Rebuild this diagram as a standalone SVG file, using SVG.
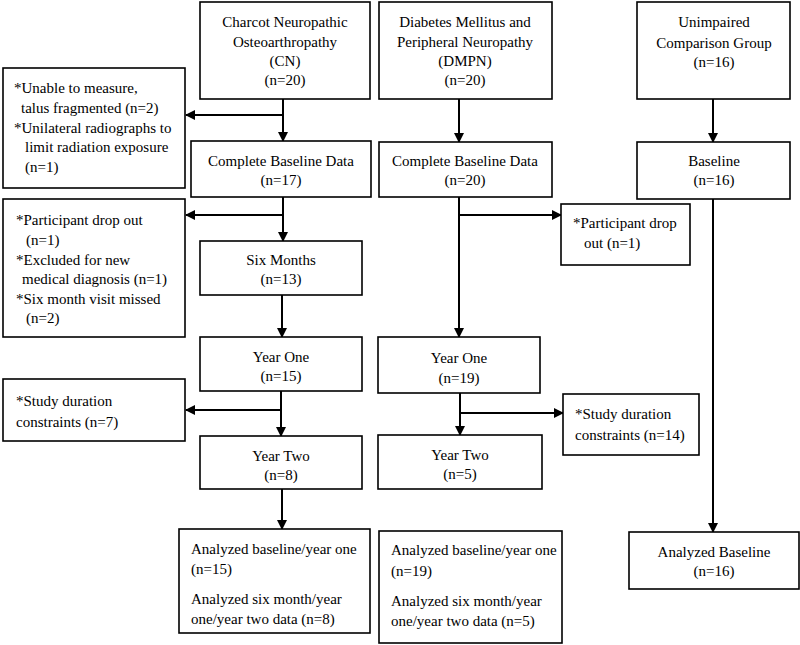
<svg xmlns="http://www.w3.org/2000/svg" width="800" height="645" viewBox="0 0 800 645">
<style>
.box{fill:#fff;stroke:#000;stroke-width:1.6}
text{font-family:"Liberation Serif","Times New Roman",serif;font-size:15px;fill:#000}
.c{text-anchor:middle}
.ln{stroke:#000;stroke-width:2;fill:none}
</style>
<defs>
<marker id="ah" markerWidth="10" markerHeight="10" refX="9" refY="5" orient="auto" markerUnits="userSpaceOnUse">
<path d="M0,0 L10,5 L0,10 Z" fill="#000"/>
</marker>
</defs>
<rect width="800" height="645" fill="#fff"/>
<g id="connectors">
<line class="ln" x1="283" y1="99" x2="283" y2="141" marker-end="url(#ah)"/>
<line class="ln" x1="283" y1="115" x2="186" y2="115" marker-end="url(#ah)"/>
<line class="ln" x1="283" y1="197" x2="283" y2="241" marker-end="url(#ah)"/>
<line class="ln" x1="283" y1="215" x2="186" y2="215" marker-end="url(#ah)"/>
<line class="ln" x1="282" y1="295" x2="282" y2="337" marker-end="url(#ah)"/>
<line class="ln" x1="281" y1="391" x2="281" y2="436" marker-end="url(#ah)"/>
<line class="ln" x1="281" y1="410" x2="186" y2="410" marker-end="url(#ah)"/>
<line class="ln" x1="282" y1="489" x2="282" y2="529" marker-end="url(#ah)"/>
<line class="ln" x1="459" y1="99" x2="459" y2="142" marker-end="url(#ah)"/>
<line class="ln" x1="459" y1="197" x2="459" y2="337" marker-end="url(#ah)"/>
<line class="ln" x1="459" y1="215" x2="561" y2="215" marker-end="url(#ah)"/>
<line class="ln" x1="460" y1="393" x2="460" y2="435" marker-end="url(#ah)"/>
<line class="ln" x1="460" y1="413" x2="563" y2="413" marker-end="url(#ah)"/>
<line class="ln" x1="713" y1="99" x2="713" y2="142" marker-end="url(#ah)"/>
<line class="ln" x1="713" y1="199" x2="713" y2="532" marker-end="url(#ah)"/>
</g>
<g id="cn">
<rect class="box" x="200" y="2" width="170" height="97"/>
<text class="c" x="285" y="27">Charcot Neuropathic</text>
<text class="c" x="285" y="47">Osteoarthropathy</text>
<text class="c" x="285" y="66">(CN)</text>
<text class="c" x="285" y="85">(n=20)</text>
</g>
<g id="dmpn">
<rect class="box" x="379" y="2" width="173" height="97"/>
<text class="c" x="465" y="27">Diabetes Mellitus and</text>
<text class="c" x="465" y="47">Peripheral Neuropathy</text>
<text class="c" x="465" y="66">(DMPN)</text>
<text class="c" x="465" y="85">(n=20)</text>
</g>
<g id="unimpaired">
<rect class="box" x="637" y="2" width="153" height="97"/>
<text class="c" x="714" y="27">Unimpaired</text>
<text class="c" x="714" y="48">Comparison Group</text>
<text class="c" x="714" y="67">(n=16)</text>
</g>
<g id="excl-cn-1">
<rect class="box" x="3" y="68" width="182" height="120"/>
<text x="14" y="93">*Unable to measure,</text>
<text x="21" y="113">talus fragmented (n=2)</text>
<text x="14" y="133">*Unilateral radiographs to</text>
<text x="25" y="152">limit radiation exposure</text>
<text x="25" y="172">(n=1)</text>
</g>
<g id="baseline-cn">
<rect class="box" x="191" y="141" width="180" height="56"/>
<text class="c" x="281" y="166">Complete Baseline Data</text>
<text class="c" x="281" y="185">(n=17)</text>
</g>
<g id="baseline-dmpn">
<rect class="box" x="379" y="142" width="173" height="55"/>
<text class="c" x="465" y="166">Complete Baseline Data</text>
<text class="c" x="465" y="185">(n=20)</text>
</g>
<g id="baseline-unimpaired">
<rect class="box" x="637" y="142" width="153" height="57"/>
<text class="c" x="714" y="166">Baseline</text>
<text class="c" x="714" y="185">(n=16)</text>
</g>
<g id="excl-cn-2">
<rect class="box" x="3" y="199" width="182" height="138"/>
<text x="16" y="225">*Participant drop out</text>
<text x="26" y="245">(n=1)</text>
<text x="16" y="265">*Excluded for new</text>
<text x="22" y="284">medical diagnosis (n=1)</text>
<text x="16" y="304">*Six month visit missed</text>
<text x="26" y="323">(n=2)</text>
</g>
<g id="excl-dmpn-1">
<rect class="box" x="561" y="204" width="129" height="61"/>
<text x="573" y="228">*Participant drop</text>
<text x="584" y="248">out (n=1)</text>
</g>
<g id="six-months-cn">
<rect class="box" x="200" y="241" width="162" height="54"/>
<text class="c" x="281" y="265">Six Months</text>
<text class="c" x="281" y="284">(n=13)</text>
</g>
<g id="year-one-cn">
<rect class="box" x="200" y="337" width="162" height="54"/>
<text class="c" x="281" y="362">Year One</text>
<text class="c" x="281" y="381">(n=15)</text>
</g>
<g id="year-one-dmpn">
<rect class="box" x="378" y="337" width="162" height="56"/>
<text class="c" x="459" y="363">Year One</text>
<text class="c" x="459" y="383">(n=19)</text>
</g>
<g id="excl-cn-3">
<rect class="box" x="3" y="379" width="182" height="62"/>
<text x="16" y="406">*Study duration</text>
<text x="16" y="427">constraints (n=7)</text>
</g>
<g id="excl-dmpn-2">
<rect class="box" x="563" y="394" width="136" height="61"/>
<text x="575" y="419">*Study duration</text>
<text x="575" y="440">constraints (n=14)</text>
</g>
<g id="year-two-cn">
<rect class="box" x="200" y="436" width="162" height="53"/>
<text class="c" x="281" y="461">Year Two</text>
<text class="c" x="281" y="480">(n=8)</text>
</g>
<g id="year-two-dmpn">
<rect class="box" x="378" y="435" width="164" height="54"/>
<text class="c" x="460" y="460">Year Two</text>
<text class="c" x="460" y="479">(n=5)</text>
</g>
<g id="analyzed-cn">
<rect class="box" x="179" y="529" width="191" height="104"/>
<text x="191" y="554">Analyzed baseline/year one</text>
<text x="191" y="574">(n=15)</text>
<text x="191" y="604">Analyzed six month/year</text>
<text x="191" y="624">one/year two data (n=8)</text>
</g>
<g id="analyzed-dmpn">
<rect class="box" x="379" y="531" width="183" height="112"/>
<text x="391" y="555">Analyzed baseline/year one</text>
<text x="391" y="576">(n=19)</text>
<text x="391" y="606">Analyzed six month/year</text>
<text x="391" y="626">one/year two data (n=5)</text>
</g>
<g id="analyzed-unimpaired">
<rect class="box" x="629" y="532" width="170" height="57"/>
<text class="c" x="714" y="557">Analyzed Baseline</text>
<text class="c" x="714" y="576">(n=16)</text>
</g>
</svg>
